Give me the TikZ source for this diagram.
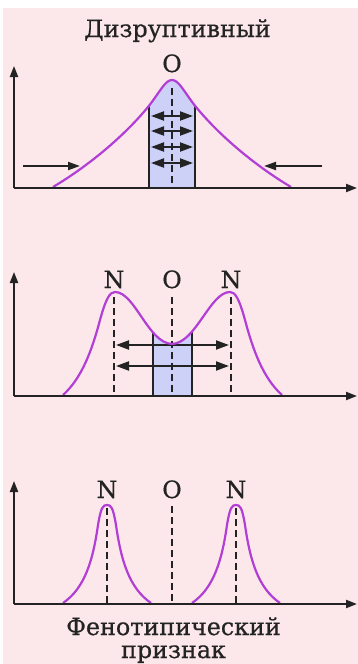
\documentclass[tikz,border=0pt]{standalone}
\usepackage{fontspec}
\newfontfamily\labelfont[FakeBold=0.6]{DejaVu Serif}
\usetikzlibrary{arrows.meta}
\definecolor{bgpink}{RGB}{252,232,234}
\definecolor{boxblue}{RGB}{205,209,248}
\definecolor{curvepurple}{RGB}{178,62,214}
\definecolor{ink}{RGB}{35,35,35}
\tikzset{
  axis/.style={draw=ink, line width=2pt, -{Triangle[length=11pt,width=8pt]}},
  curve/.style={draw=curvepurple, line width=2.2pt},
  guide/.style={draw=ink, line width=1.6pt, dash pattern=on 7pt off 4pt},
  boxedge/.style={draw=ink, line width=1.6pt},
  twoway/.style={draw=ink, line width=2pt, {Triangle[length=13pt,width=9pt]}-{Triangle[length=13pt,width=9pt]}},
  push/.style={draw=ink, line width=2pt, -{Triangle[length=12pt,width=8pt]}},
  lbl/.style={font=\labelfont\fontsize{23.8}{23}\selectfont, text=ink, inner sep=0pt, anchor=base},
}
\begin{document}
\begin{tikzpicture}[x=1pt,y=-1pt]
\useasboundingbox (0,0) rectangle (358,664);
\fill[bgpink] (3,8) rectangle (358,664);

% ---------- Panel 1 ----------
\node[lbl] (title) at (177.5,37) {Дизруптивный};
\node[lbl] (o1) at (172,72) {O};
\coordinate (y1a) at (14,188);
\coordinate (y1b) at (14,66);
\coordinate (x1b) at (357,188);
\begin{scope}
  \clip (53,187) .. controls (90,165) and (125,135) .. (148,107)
        .. controls (160,92) and (165,80) .. (172,80)
        .. controls (179,80) and (184,92) .. (196,107)
        .. controls (219,135) and (254,165) .. (291,187) -- cycle;
  \fill[boxblue] (149,60) rectangle (195,187);
  \draw[boxedge] (149,60) -- (149,187);
  \draw[boxedge] (195,60) -- (195,187);
\end{scope}
\coordinate (c1t) at (172,88);
\coordinate (c1b) at (172,187);
\draw[guide] (c1t) -- (c1b);
\foreach \yy/\nm in {116/a,131/b,147/c,163/d}{
  \coordinate (p1l\nm) at (151,\yy);
  \coordinate (p1r\nm) at (193,\yy);
  \draw[twoway] (p1l\nm) -- (p1r\nm);
}
\draw[curve] (53,187) .. controls (90,165) and (125,135) .. (148,107)
        .. controls (160,92) and (165,80) .. (172,80)
        .. controls (179,80) and (184,92) .. (196,107)
        .. controls (219,135) and (254,165) .. (291,187);
\coordinate (la1) at (23,166);
\coordinate (la2) at (80,166);
\coordinate (ra1) at (322,166);
\coordinate (ra2) at (264,166);
\draw[push] (la1) -- (la2);
\draw[push] (ra1) -- (ra2);
\draw[axis] (y1a) -- (y1b);
\draw[axis] (y1a) -- (x1b);

% ---------- Panel 2 ----------
\node[lbl] (n2l) at (114,288) {N};
\node[lbl] (o2) at (172,288) {O};
\node[lbl] (n2r) at (231,288) {N};
\coordinate (y2a) at (14,396);
\coordinate (y2b) at (14,272);
\coordinate (x2b) at (357,396);
\begin{scope}
  \clip (63,395) .. controls (82,378) and (92,350) .. (100,320)
        .. controls (106,298) and (110,292) .. (115,292)
        .. controls (135,292) and (148,343) .. (172,344)
        .. controls (196,343) and (210,292) .. (230,292)
        .. controls (235,292) and (239,298) .. (245,320)
        .. controls (253,350) and (263,378) .. (282,395) -- cycle;
  \fill[boxblue] (153,300) rectangle (192,395);
  \draw[boxedge] (153,300) -- (153,395);
  \draw[boxedge] (192,300) -- (192,395);
\end{scope}
\coordinate (g2lt) at (114,297);
\coordinate (g2lb) at (114,395);
\coordinate (g2ct) at (172,297);
\coordinate (g2cb) at (172,395);
\coordinate (g2rt) at (231,297);
\coordinate (g2rb) at (231,395);
\draw[guide] (g2lt) -- (g2lb);
\draw[guide] (g2ct) -- (g2cb);
\draw[guide] (g2rt) -- (g2rb);
\coordinate (p2la) at (116,345);
\coordinate (p2ra) at (229,345);
\coordinate (p2lb) at (116,366);
\coordinate (p2rb) at (229,366);
\draw[twoway] (p2la) -- (p2ra);
\draw[twoway] (p2lb) -- (p2rb);
\draw[curve] (63,395) .. controls (82,378) and (92,350) .. (100,320)
        .. controls (106,298) and (110,292) .. (115,292)
        .. controls (135,292) and (148,343) .. (172,344)
        .. controls (196,343) and (210,292) .. (230,292)
        .. controls (235,292) and (239,298) .. (245,320)
        .. controls (253,350) and (263,378) .. (282,395);
\draw[axis] (y2a) -- (y2b);
\draw[axis] (y2a) -- (x2b);

% ---------- Panel 3 ----------
\node[lbl] (n3l) at (107,498) {N};
\node[lbl] (o3) at (172,498) {O};
\node[lbl] (n3r) at (236,498) {N};
\coordinate (y3a) at (14,604);
\coordinate (y3b) at (14,481);
\coordinate (x3b) at (357,604);
\coordinate (g3lt) at (107,508);
\coordinate (g3lb) at (107,603);
\coordinate (g3ct) at (172,506);
\coordinate (g3cb) at (172,603);
\coordinate (g3rt) at (236,508);
\coordinate (g3rb) at (236,603);
\draw[guide] (g3lt) -- (g3lb);
\draw[guide] (g3ct) -- (g3cb);
\draw[guide] (g3rt) -- (g3rb);
\foreach \cx in {107,236}{
  \draw[curve] (\cx-44,603) .. controls (\cx-22,588) and (\cx-14,560) .. (\cx-9,525)
        .. controls (\cx-6,507) and (\cx-4,505) .. (\cx,505)
        .. controls (\cx+4,505) and (\cx+6,507) .. (\cx+9,525)
        .. controls (\cx+14,560) and (\cx+22,588) .. (\cx+44,603);
}
\draw[axis] (y3a) -- (y3b);
\draw[axis] (y3a) -- (x3b);
\node[lbl, align=center, anchor=base] (xl) at (173.5,658) {Фенотипический\\признак};
\end{tikzpicture}
\end{document}
